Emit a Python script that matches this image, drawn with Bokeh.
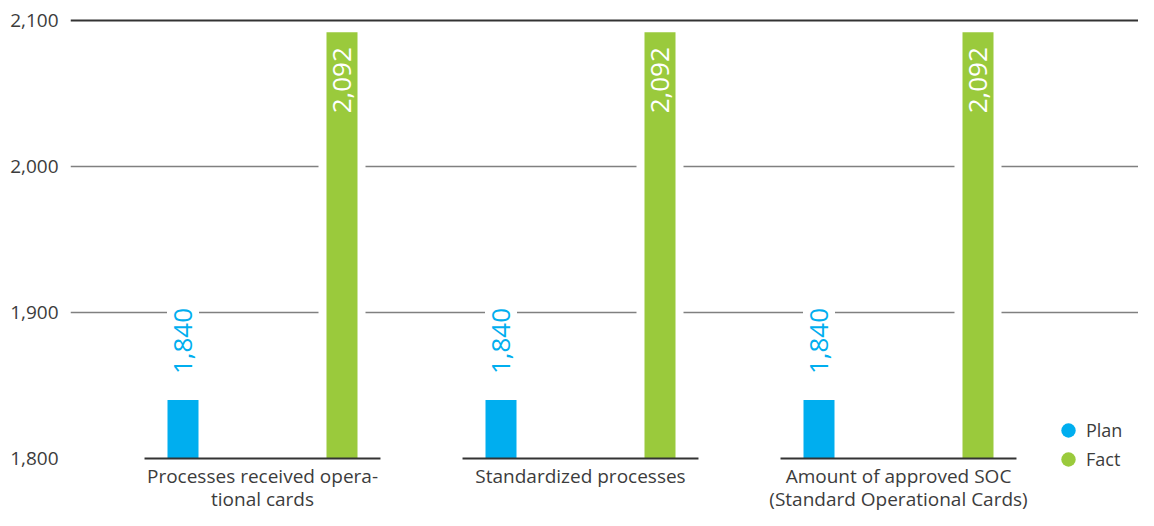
import math
from bokeh.plotting import figure
from bokeh.models import (Range1d, FixedTicker, NumeralTickFormatter, Grid,
                          ColumnDataSource, Legend, LegendItem)
from bokeh.core.properties import value
from bokeh.embed import file_html
from bokeh.resources import INLINE

# ---------------- data ----------------
categories = [
    "Processes received opera-\ntional cards",
    "Standardized processes",
    "Amount of approved SOC\n(Standard Operational Cards)",
]
plan = [1840, 1840, 1840]
fact = [2092, 2092, 2092]
series_names = ["Plan", "Fact"]
y_ticks = [1800, 1900, 2000, 2100]

# ---------------- style ----------------
BLUE = "#00AEEF"
GREEN = "#9ACA3C"
TEXT = "#3c3c3c"
GRID = "#808080"
DARK = "#333333"
FONT = "Open Sans"

W, H = 1138, 510
LEFT = 70
top_px = 20
base_px = 458
px_per_unit = (base_px - top_px) / (y_ticks[-1] - y_ticks[0])
y_end = y_ticks[-1] + top_px / px_per_unit
y_start = y_ticks[0] - (H - base_px) / px_per_unit

group_px = 318
first_center = 262
x_start = -(first_center - LEFT) / group_px
x_end = (W - first_center) / group_px

BAR_W = 31 / group_px
HALO_W = (31 + 16) / group_px
OFFSET = 0.25
BASE_HALF = 0.371

n = len(categories)
xs = list(range(n))
base = [y_ticks[0]] * n
lines = [c.split("\n") for c in categories]
line1 = [l[0] for l in lines]
line2 = [l[1] if len(l) > 1 else "" for l in lines]

src = ColumnDataSource(dict(
    x=xs,
    xp=[v - OFFSET for v in xs],
    xf=[v + OFFSET for v in xs],
    bx0=[v - BASE_HALF for v in xs],
    bx1=[v + BASE_HALF for v in xs],
    plan=plan,
    fact=fact,
    base=base,
    line1=line1,
    line2=line2,
    plan_lbl=[f"{v:,}" for v in plan],
    fact_lbl=[f"{v:,}" for v in fact],
))

p = figure(width=W, height=H,
           x_range=Range1d(x_start, x_end), y_range=Range1d(y_start, y_end),
           x_axis_location=None, y_axis_location="left",
           output_backend="svg", toolbar_location=None,
           min_border_left=LEFT, min_border_right=0,
           min_border_top=0, min_border_bottom=0,
           outline_line_color=None, background_fill_color="white",
           border_fill_color="white")

yaxis = p.yaxis[0]
yaxis.ticker = FixedTicker(ticks=y_ticks)
yaxis.formatter = NumeralTickFormatter(format="0,0")
yaxis.axis_line_color = None
yaxis.major_tick_line_color = None
yaxis.minor_tick_line_color = None
yaxis.major_tick_in = 0
yaxis.major_tick_out = 0
yaxis.major_label_standoff = 12
yaxis.major_label_text_font = FONT
yaxis.major_label_text_font_size = "19px"
yaxis.major_label_text_color = TEXT

p.xgrid.grid_line_color = None
p.ygrid.ticker = FixedTicker(ticks=y_ticks[1:-1])
p.ygrid.grid_line_color = GRID
p.ygrid.grid_line_width = 1.5

top_grid = Grid(dimension=1, ticker=FixedTicker(ticks=y_ticks[-1:]),
                grid_line_color=DARK, grid_line_width=2)
p.add_layout(top_grid)

# white halo behind green bars (gaps in grid lines)
p.vbar(x="xf", top="fact", bottom="base", width=HALO_W, source=src,
       fill_color="white", line_color=None)
p.vbar(x="xp", top="plan", bottom="base", width=BAR_W, source=src,
       fill_color=BLUE, line_color=None)
p.vbar(x="xf", top="fact", bottom="base", width=BAR_W, source=src,
       fill_color=GREEN, line_color=None)

p.segment(x0="bx0", y0="base", x1="bx1", y1="base", source=src,
          line_color=DARK, line_width=2)

p.text(x="xp", y="plan", text="plan_lbl", source=src, angle=math.pi / 2,
       text_align="left", text_baseline="middle", y_offset=-16,
       text_color=BLUE, text_font=value(FONT), text_font_size="26px",
       background_fill_color="white",
       padding=dict(left=10, right=10, top=7, bottom=7))
p.text(x="xf", y="fact", text="fact_lbl", source=src, angle=math.pi / 2,
       text_align="right", text_baseline="middle", y_offset=15,
       text_color="white", text_font=value(FONT), text_font_size="26px")

cat_kw = dict(source=src, text_align="center", text_baseline="top",
              text_color=TEXT, text_font=value(FONT), text_font_size="19px")
p.text(x="x", y="base", text="line1", y_offset=4, **cat_kw)
p.text(x="x", y="base", text="line2", y_offset=27, **cat_kw)

nan = float("nan")
r_plan = p.scatter(x=[nan], y=[nan], marker="circle", size=15,
                   fill_color=BLUE, line_color=None)
r_fact = p.scatter(x=[nan], y=[nan], marker="circle", size=15,
                   fill_color=GREEN, line_color=None)

legend_kw = dict(glyph_width=36, glyph_height=36, spacing=0, label_standoff=0,
                 padding=0, margin=0, border_line_color=None,
                 background_fill_alpha=0, label_text_font=FONT,
                 label_text_font_size="18px", label_text_color=TEXT,
                 label_height=20)
leg_plan = Legend(items=[LegendItem(label=series_names[0], renderers=[r_plan])],
                  location=(980, 62), **legend_kw)
leg_fact = Legend(items=[LegendItem(label=series_names[1], renderers=[r_fact])],
                  location=(980, 33), **legend_kw)
p.add_layout(leg_plan)
p.add_layout(leg_fact)

open("out.html", "w").write(file_html(p, INLINE))
